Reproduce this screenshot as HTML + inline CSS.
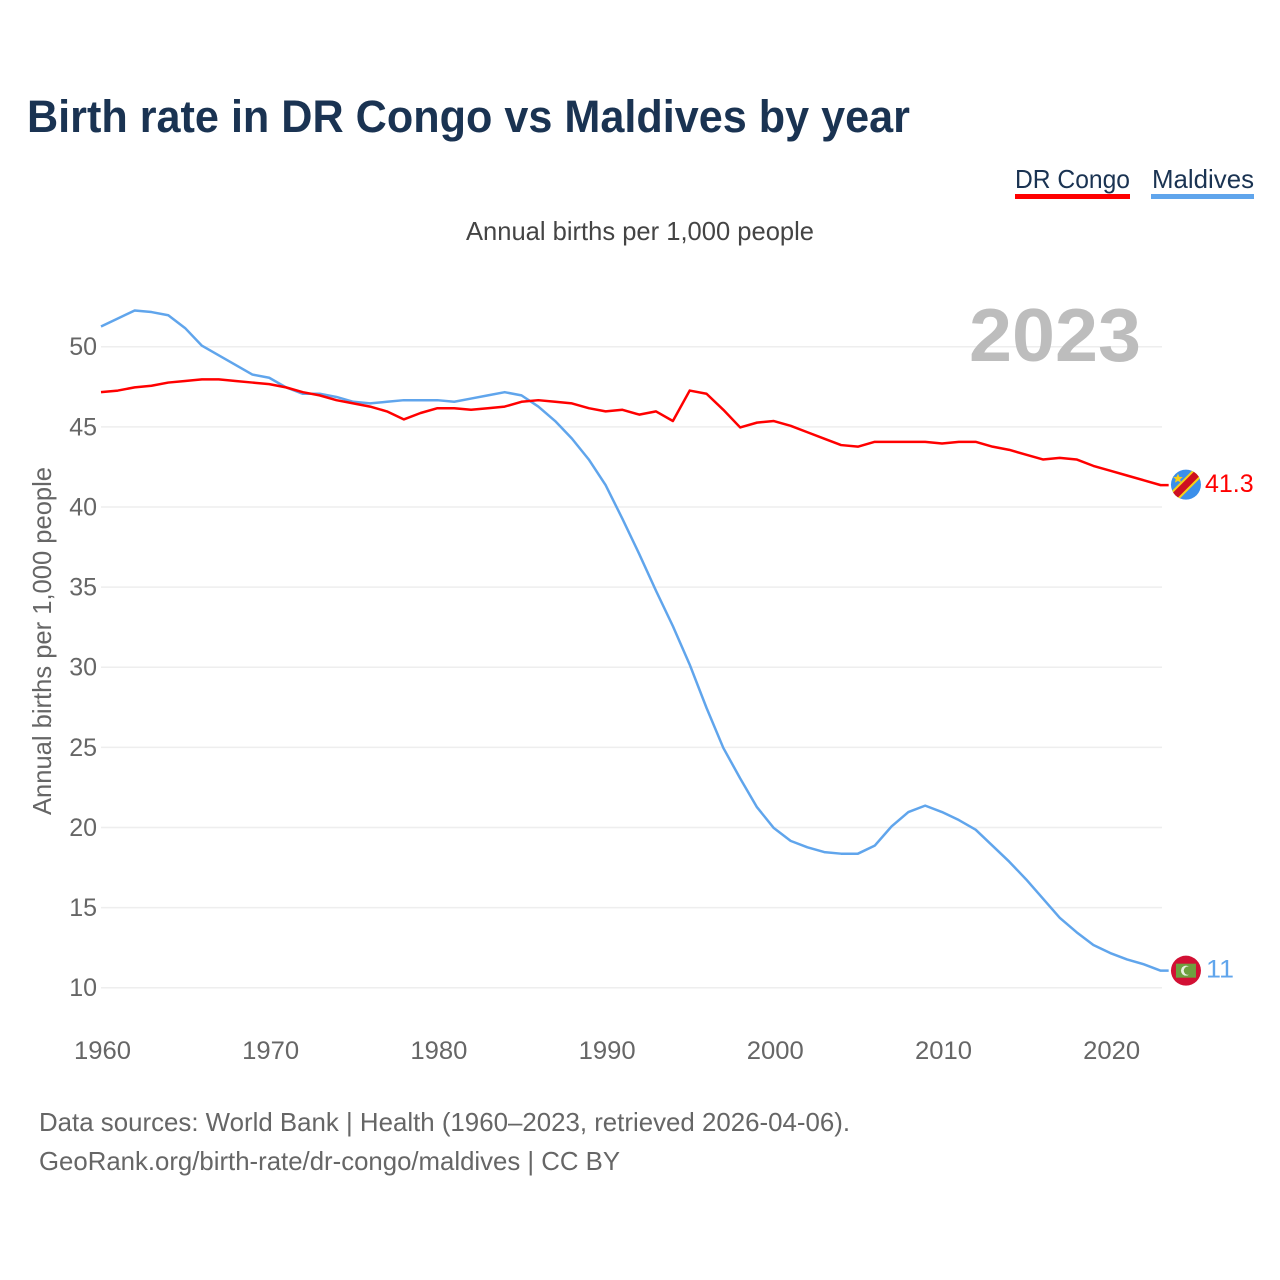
<!DOCTYPE html>
<html lang="en">
<head>
<meta charset="utf-8">
<title>Birth rate in DR Congo vs Maldives by year</title>
<style>
html,body{margin:0;padding:0;background:#fff;}
svg{display:block;}
text{font-family:"Liberation Sans",sans-serif;}
</style>
</head>
<body>
<svg id="chart" xmlns="http://www.w3.org/2000/svg" width="1280" height="1280" viewBox="0 0 1280 1280">
  <defs>
    <clipPath id="flag-clip-a"><circle cx="0" cy="0" r="15"></circle></clipPath>
  </defs>
  <rect x="0" y="0" width="1280" height="1280" fill="#ffffff"></rect>
  <text x="27" y="132" font-size="45" font-weight="700" fill="#1a3352" textLength="883" lengthAdjust="spacingAndGlyphs">Birth rate in DR Congo vs Maldives by year</text>
  <a>
    <text x="1015" y="188" font-size="26" fill="#1a3352" textLength="115" lengthAdjust="spacingAndGlyphs">DR Congo</text>
    <rect x="1015" y="194" width="115" height="5" fill="#ff0000"></rect>
  </a>
  <a>
    <text x="1152" y="188" font-size="26" fill="#1a3352" textLength="102" lengthAdjust="spacingAndGlyphs">Maldives</text>
    <rect x="1151" y="194" width="103" height="5" fill="#60a5ec"></rect>
  </a>
  <text x="466" y="240" font-size="26" fill="#444444" textLength="348" lengthAdjust="spacingAndGlyphs">Annual births per 1,000 people</text>
  <text transform="translate(51,815) rotate(-90)" x="0" y="0" font-size="26" fill="#666666" textLength="348" lengthAdjust="spacingAndGlyphs">Annual births per 1,000 people</text>
  <g id="grid"></g>
  <g id="yticks"></g>
  <g id="xticks"></g>
  <text x="969" y="361" font-size="75" font-weight="700" fill="#bdbdbd" textLength="172" lengthAdjust="spacingAndGlyphs">2023</text>
  <g id="series"></g>
  <g id="ends"></g>
  <text x="39" y="1131" font-size="26" fill="#666666" textLength="811" lengthAdjust="spacingAndGlyphs">Data sources: World Bank | Health (1960–2023, retrieved 2026-04-06).</text>
  <text x="39" y="1170" font-size="26" fill="#666666" textLength="581" lengthAdjust="spacingAndGlyphs">GeoRank.org/birth-rate/dr-congo/maldives | CC BY</text>
</svg>
<script>
const startYear = 1960;
const xTickYears = [1960, 1970, 1980, 1990, 2000, 2010, 2020];
const yTickValues = [10, 15, 20, 25, 30, 35, 40, 45, 50];
const drCongoValues = [47.1,47.2,47.4,47.5,47.7,47.8,47.9,47.9,47.8,47.7,47.6,47.4,47.1,46.9,46.6,46.4,46.2,45.9,45.4,45.8,46.1,46.1,46.0,46.1,46.2,46.5,46.6,46.5,46.4,46.1,45.9,46.0,45.7,45.9,45.3,47.2,47.0,46.0,44.9,45.2,45.3,45.0,44.6,44.2,43.8,43.7,44.0,44.0,44.0,44.0,43.9,44.0,44.0,43.7,43.5,43.2,42.9,43.0,42.9,42.5,42.2,41.9,41.6,41.3];
const maldivesValues = [51.2,51.7,52.2,52.1,51.9,51.1,50.0,49.4,48.8,48.2,48.0,47.4,47.0,47.0,46.8,46.5,46.4,46.5,46.6,46.6,46.6,46.5,46.7,46.9,47.1,46.9,46.2,45.3,44.2,42.9,41.3,39.2,37.0,34.7,32.5,30.1,27.4,24.9,23.0,21.2,19.9,19.1,18.7,18.4,18.3,18.3,18.8,20.0,20.9,21.3,20.9,20.4,19.8,18.8,17.8,16.7,15.5,14.3,13.4,12.6,12.1,11.7,11.4,11.0];
const drCongoEndLabel = "41.3";
const maldivesEndLabel = "11";

const NS = "http://www.w3.org/2000/svg";
const xScale = function (year) { return 101 + (year - 1960) * 16.82; };
const yScale = function (value) { return 987.7 - (value - 10) * 16.025; };
const lineY = function (value) { return yScale(value) - 1; };

function make(tag, attrs, parent, content) {
  const el = document.createElementNS(NS, tag);
  Object.keys(attrs).forEach(function (k) { el.setAttribute(k, attrs[k]); });
  if (content !== undefined) el.textContent = content;
  parent.appendChild(el);
  return el;
}

const gridGroup = document.getElementById("grid");
const yTickGroup = document.getElementById("yticks");
const xTickGroup = document.getElementById("xticks");
const seriesGroup = document.getElementById("series");
const endsGroup = document.getElementById("ends");

yTickValues.forEach(function (v) {
  const line = make("line", {x1: 101, x2: 1162, y1: yScale(v), y2: yScale(v), stroke: "#eeeeee", "stroke-width": 1.5}, gridGroup);
  
  
  const label = make("text", {x: 97, y: yScale(v) + 8.5, "text-anchor": "end", "font-size": 25, fill: "#666666"}, yTickGroup, String(v));
  
  
});

xTickYears.forEach(function (yr) {
  const label = make("text", {x: xScale(yr) + 1.5, y: 1059, "text-anchor": "middle", "font-size": 25, fill: "#666666", textLength: 57, lengthAdjust: "spacingAndGlyphs"}, xTickGroup, String(yr));
  
  
});

function linePoints(values) {
  const pts = values.map(function (v, i) {
    return xScale(startYear + i).toFixed(2) + "," + lineY(v).toFixed(2);
  });
  const last = values[values.length - 1];
  pts.push((xScale(startYear + values.length - 1) + 8).toFixed(2) + "," + lineY(last).toFixed(2));
  return pts.join(" ");
}

const maldivesLine = make("polyline", {points: linePoints(maldivesValues), fill: "none", stroke: "#60a5ec", "stroke-width": 2.5, "stroke-linejoin": "round"}, seriesGroup);



const congoLine = make("polyline", {points: linePoints(drCongoValues), fill: "none", stroke: "#ff0000", "stroke-width": 2.5, "stroke-linejoin": "round"}, seriesGroup);



const endX = xScale(startYear + drCongoValues.length - 1) + 25.3;

const congoY = lineY(drCongoValues[drCongoValues.length - 1]);
const congoFlag = make("g", {transform: "translate(" + endX + "," + (congoY - 0.5) + ")", "clip-path": "url(#flag-clip-a)"}, endsGroup);


make("rect", {x: -16, y: -16, width: 32, height: 32, fill: "#3b8fea"}, congoFlag);
make("line", {x1: -18, y1: 18, x2: 18, y2: -18, stroke: "#f7d117", "stroke-width": 11}, congoFlag);
make("line", {x1: -18, y1: 18, x2: 18, y2: -18, stroke: "#ce1021", "stroke-width": 7}, congoFlag);
make("polygon", {points: "-8,-11 -6.6,-7.8 -3.2,-7.6 -5.8,-5.4 -5,-2 -8,-3.8 -11,-2 -10.2,-5.4 -12.8,-7.6 -9.4,-7.8", fill: "#f7d117"}, congoFlag);

const congoText = make("text", {x: endX + 19, y: congoY + 7, "font-size": 25, fill: "#ff0000"}, endsGroup, drCongoEndLabel);



const maldivesY = lineY(maldivesValues[maldivesValues.length - 1]);
const maldivesFlag = make("g", {transform: "translate(" + endX + "," + maldivesY + ")", "clip-path": "url(#flag-clip-a)"}, endsGroup);


make("rect", {x: -16, y: -16, width: 32, height: 32, fill: "#d21034"}, maldivesFlag);
make("rect", {x: -10, y: -7, width: 20, height: 14, fill: "#6ea03f"}, maldivesFlag);
make("circle", {cx: 0, cy: 0, r: 5, fill: "#e8efe0"}, maldivesFlag);
make("circle", {cx: 2, cy: 0, r: 4.2, fill: "#6ea03f"}, maldivesFlag);

const maldivesText = make("text", {x: endX + 20, y: maldivesY + 7, "font-size": 25, fill: "#60a5ec", textLength: 28, lengthAdjust: "spacingAndGlyphs"}, endsGroup, maldivesEndLabel);


</script>
</body>
</html>
